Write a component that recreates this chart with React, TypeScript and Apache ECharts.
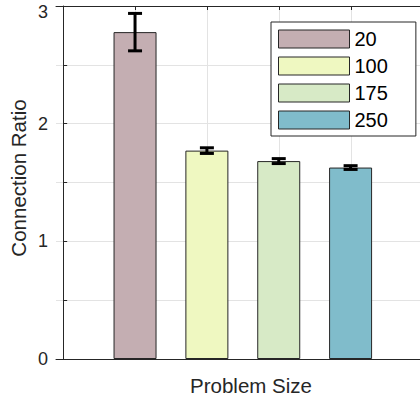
import React, { useEffect, useRef } from 'react';
import * as echarts from 'echarts';

const categories = ['20', '100', '175', '250'];
const positions = [1, 2, 3, 4];
const values = [2.778, 1.771, 1.682, 1.627];
const errors = [0.159, 0.024, 0.021, 0.016];
const colors = ['#c4aeb2', '#eff8c1', '#d7eac6', '#80bccb'];
const yMin = 0;
const yMax = 3;
const yStep = 0.5;
const yLabelText = 'Connection Ratio';
const xLabelText = 'Problem Size';

export default function App() {
  const ref = useRef<HTMLDivElement>(null);
  useEffect(() => {
    const chart = echarts.init(ref.current!, null, { renderer: 'svg' });
    const font = '"Liberation Sans", Arial, Helvetica, sans-serif';
    const axisColor = '#262626';
    const gridColor = '#e3e3e3';

    const barSeries = categories.map((name, i) => ({
      type: 'bar',
      name,
      data: [[positions[i], values[i]]],
      barWidth: 43,
      barGap: '-100%',
      itemStyle: { color: colors[i], borderColor: axisColor, borderWidth: 1 },
      z: 3,
    }));

    const xAxisBase = {
      type: 'value',
      min: -0.1,
      max: 5.3,
      axisLine: { show: true, lineStyle: { color: axisColor, width: 1 } },
      axisTick: { show: false },
      axisLabel: { show: false },
      splitLine: { show: false },
    };

    const option: any = {
      animation: false,
      backgroundColor: '#fff',
      grid: { left: 56, top: 6, bottom: 39, right: -24, containLabel: false, outerBoundsMode: 'none' },
      xAxis: [
        { ...xAxisBase, position: 'bottom' },
        { ...xAxisBase, position: 'top' },
      ],
      yAxis: {
        type: 'value',
        min: yMin,
        max: yMax,
        interval: yStep,
        axisLine: { show: true, lineStyle: { color: axisColor, width: 1 } },
        axisTick: { show: true, inside: true, length: 4, lineStyle: { color: axisColor } },
        axisLabel: {
          fontSize: 18,
          fontFamily: font,
          color: axisColor,
          margin: 8,
          lineHeight: 12,
          verticalAlignMaxLabel: 'top',
          formatter: (v: number) => (Number.isInteger(v) ? String(v) : ''),
        },
        splitLine: { show: true, lineStyle: { color: gridColor, width: 1 } },
      },
      legend: {
        orient: 'vertical',
        left: 271,
        top: 22,
        data: categories,
        icon: 'rect',
        itemWidth: 71,
        itemHeight: 18,
        itemGap: 7,
        padding: [7, 28, 6, 7],
        borderColor: axisColor,
        borderWidth: 1,
        backgroundColor: '#fff',
        selectedMode: false,
        textStyle: { fontSize: 20, fontFamily: font, color: '#000', lineHeight: 18 },
        itemStyle: { borderColor: axisColor, borderWidth: 1 },
      },
      graphic: [
        {
          type: 'text',
          x: 18,
          y: 178,
          rotation: Math.PI / 2,
          style: {
            text: yLabelText,
            fontSize: 20.5,
            fontFamily: font,
            fill: axisColor,
            align: 'center',
            verticalAlign: 'middle',
          },
        },
        {
          type: 'text',
          x: 251,
          y: 385.5,
          style: {
            text: xLabelText,
            fontSize: 20.5,
            fontFamily: font,
            fill: axisColor,
            align: 'center',
            verticalAlign: 'middle',
          },
        },
      ],
      series: [
        {
          type: 'custom',
          name: 'xgrid',
          z: 1,
          silent: true,
          data: positions.map((p) => [p]),
          renderItem: (_p: any, api: any) => {
            const x = api.value(0);
            const top = api.coord([x, yMax]);
            const bottom = api.coord([x, yMin]);
            const cx = Math.round(top[0]) + 0.5;
            return {
              type: 'group',
              children: [
                { type: 'line', shape: { x1: cx, y1: top[1], x2: cx, y2: bottom[1] }, style: { stroke: gridColor, lineWidth: 1 } },
                { type: 'line', shape: { x1: cx, y1: top[1], x2: cx, y2: top[1] + 4 }, style: { stroke: axisColor, lineWidth: 1 } },
              ],
            };
          },
        },
        ...barSeries,
        {
          type: 'custom',
          name: 'errors',
          z: 5,
          silent: true,
          data: positions.map((p, i) => [p, values[i], errors[i]]),
          renderItem: (_p: any, api: any) => {
            const x = api.value(0);
            const v = api.value(1);
            const e = api.value(2);
            const hi = api.coord([x, v + e]);
            const lo = api.coord([x, v - e]);
            const cx = hi[0];
            const half = 7;
            const st = { stroke: '#000', lineWidth: 3 };
            return {
              type: 'group',
              children: [
                { type: 'line', shape: { x1: cx, y1: hi[1], x2: cx, y2: lo[1] }, style: st },
                { type: 'line', shape: { x1: cx - half, y1: hi[1], x2: cx + half, y2: hi[1] }, style: st },
                { type: 'line', shape: { x1: cx - half, y1: lo[1], x2: cx + half, y2: lo[1] }, style: st },
              ],
            };
          },
        },
      ],
    };
    chart.setOption(option);
    return () => chart.dispose();
  }, []);
  return (
    <div
      ref={ref}
      style={{ position: 'fixed', left: 0, top: 0, width: 420, height: 398, background: '#fff' }}
    />
  );
}
